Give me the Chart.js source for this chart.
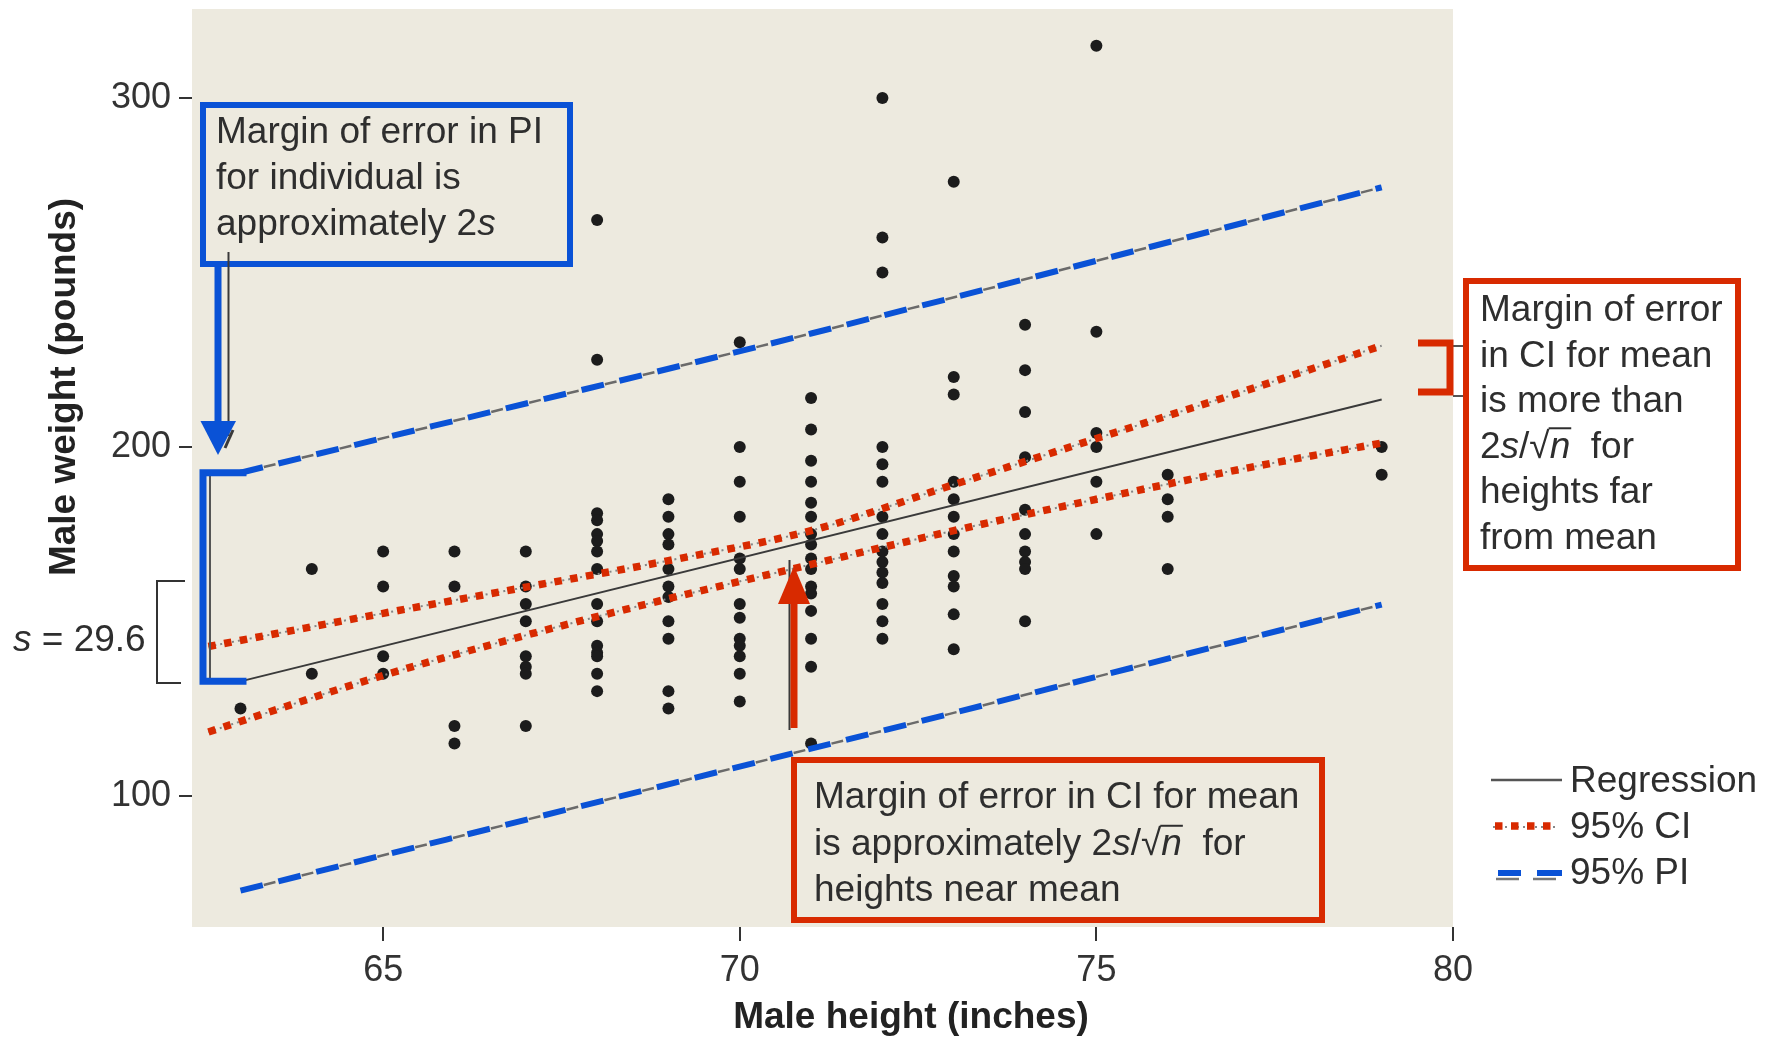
<!DOCTYPE html>
<html><head><meta charset="utf-8">
<script src="https://cdn.jsdelivr.net/npm/chart.js@4.4.1/dist/chart.umd.min.js"></script>
<style>html,body{margin:0;padding:0;background:#fff;overflow:hidden}canvas{display:block}</style>
</head><body>
<canvas id="c" width="1779" height="1038"></canvas>
<script>
// ---------- data ----------
const heights = [
  63,
  64,64,
  65,65,65,65,
  66,66,66,66,
  67,67,67,67,67,67,67,67,
  68,68,68,68,68,68,68,68,68,68,68,68,68,68,68,
  69,69,69,69,69,69,69,69,69,69,69,
  70,70,70,70,70,70,70,70,70,70,70,70,70,
  71,71,71,71,71,71,71,71,71,71,71,71,71,71,71,71,
  72,72,72,72,72,72,72,72,72,72,72,72,72,72,72,
  73,73,73,73,73,73,73,73,73,73,73,73,
  74,74,74,74,74,74,74,74,74,74,
  75,75,75,75,75,75,
  76,76,76,76,
  79,79
];
const weights = [
  125,
  165,135,
  170,160,140,135,
  170,160,120,115,
  170,160,155,150,140,137,135,120,
  265,225,181,179,175,173,170,165,155,150,143,141,140,135,130,
  185,180,175,172,165,160,157,150,145,130,125,
  230,200,190,180,168,165,155,151,145,143,140,135,127,
  214,205,196,190,184,180,175,172,168,165,160,158,153,145,137,115,
  300,260,250,200,195,190,180,175,170,167,164,161,155,150,145,
  276,220,215,190,185,180,175,170,163,160,152,142,
  235,222,210,197,182,175,170,167,165,150,
  315,233,204,200,190,175,
  192,185,180,165,
  200,192
];
const xTickValues = [65, 70, 75, 80];
const yTickValues = [100, 200, 300];
const regressionX = [63, 79];
const regressionY = [132.8, 213.6];
const ciX = [62.55, 65, 67, 69, 71, 73, 75, 77, 79];
const ciUpper = [142.8, 152.3, 159.8, 167.4, 176.0, 189.2, 202.4, 215.5, 229.0];
const ciLower = [118.3, 134.5, 146.0, 156.5, 166.3, 176.0, 185.0, 193.5, 201.1];
const piX = [63, 71, 79];
const piUpper = [192.6, 232.5, 274.4];
const piLower = [72.8, 113.5, 154.8];
const legendLabels = ['Regression', '95% CI', '95% PI'];
const xTitle = 'Male height (inches)';
const yTitle = 'Male weight (pounds)';

// ---------- styles ----------
const FONT = '"Liberation Sans", Arial, Helvetica, sans-serif';
const BLUE = '#0a52d6', RED = '#d82a00', BG = '#edeadf', INK = '#2e2e2e';
const pts = (xs, ys) => xs.map((x, i) => ({x: x, y: ys[i]}));

function richText(ctx, x, y, segs, size) {
  for (const s of segs) {
    ctx.font = (s.i ? 'italic ' : '') + size + 'px ' + FONT;
    ctx.fillText(s.t, x, y);
    const w = ctx.measureText(s.t).width;
    if (s.bar) {
      ctx.save(); ctx.strokeStyle = INK; ctx.lineWidth = 2;
      ctx.beginPath(); ctx.moveTo(x - 1, y - size * 0.79); ctx.lineTo(x + w + 1, y - size * 0.79); ctx.stroke();
      ctx.restore();
    }
    x += w;
  }
}
const sqrtN = [{t:'2'},{t:'s',i:1},{t:'/'},{t:'\u221A'},{t:'n',i:1,bar:1}];

function box(ctx, x, y, w, h, color, fill, lw) {
  ctx.save();
  ctx.fillStyle = fill; ctx.fillRect(x, y, w, h);
  ctx.strokeStyle = color; ctx.lineWidth = lw; ctx.strokeRect(x, y, w, h);
  ctx.restore();
}
function line(ctx, pts, color, lw, dash) {
  ctx.save(); ctx.strokeStyle = color; ctx.lineWidth = lw; ctx.setLineDash(dash || []);
  ctx.lineJoin = 'miter'; ctx.lineCap = 'butt';
  ctx.beginPath(); ctx.moveTo(pts[0][0], pts[0][1]);
  for (let i = 1; i < pts.length; i++) ctx.lineTo(pts[i][0], pts[i][1]);
  ctx.stroke(); ctx.restore();
}
function tri(ctx, a, b, c, color) {
  ctx.save(); ctx.fillStyle = color; ctx.beginPath();
  ctx.moveTo(a[0], a[1]); ctx.lineTo(b[0], b[1]); ctx.lineTo(c[0], c[1]); ctx.closePath(); ctx.fill(); ctx.restore();
}

const bgPlugin = {
  id: 'bg',
  beforeDraw(chart) {
    const {ctx, chartArea: a} = chart;
    ctx.save();
    ctx.fillStyle = '#fff'; ctx.fillRect(0, 0, chart.width, chart.height);
    ctx.fillStyle = BG; ctx.fillRect(a.left, a.top, a.right - a.left, a.bottom - a.top);
    ctx.restore();
  }
};

const annoPlugin = {
  id: 'anno',
  afterDraw(chart) {
    const ctx = chart.ctx;
    const xs = chart.scales.x, ys = chart.scales.y;
    const S = 37;
    ctx.save();
    ctx.fillStyle = INK; ctx.textAlign = 'left'; ctx.textBaseline = 'alphabetic';

    // ---- blue PI box ----
    box(ctx, 203, 105, 367, 159, BLUE, BG, 6);
    ctx.fillStyle = INK;
    richText(ctx, 216, 143, [{t:'Margin of error in PI'}], S);
    richText(ctx, 216, 189, [{t:'for individual is'}], S);
    richText(ctx, 216, 235, [{t:'approximately 2'},{t:'s',i:1}], S);
    // thin original arrow
    line(ctx, [[228.5, 252], [228.5, 436]], '#3a3a3a', 2);
    line(ctx, [[225, 448], [233, 430]], '#3a3a3a', 3);
    // blue arrow
    line(ctx, [[218, 267], [218, 423]], BLUE, 7);
    tri(ctx, [200.5, 421], [236, 421], [218, 455], BLUE);

    // ---- blue bracket (PI margin at x=63) ----
    const bx0 = 203, bx1 = xs.getPixelForValue(63) + 6;
    const bTop = ys.getPixelForValue(piUpper[0]), bBot = ys.getPixelForValue(regressionY[0]);
    line(ctx, [[210, bTop], [210, bBot]], '#555', 2);
    line(ctx, [[bx1, bTop], [bx0, bTop], [bx0, bBot], [bx1, bBot]], BLUE, 7);

    // ---- s bracket ----
    line(ctx, [[185, 581], [157, 581], [157, 683], [181, 683]], '#333', 2);
    ctx.fillStyle = INK;
    richText(ctx, 13, 651, [{t:'s',i:1},{t:' = 29.6'}], S);

    // ---- right red bracket + box ----
    line(ctx, [[1453, 346], [1463, 346]], '#555', 2);
    line(ctx, [[1453, 396], [1463, 396]], '#555', 2);
    line(ctx, [[1418, 343], [1450, 343], [1450, 392], [1418, 392]], RED, 7);
    box(ctx, 1466, 281, 272, 287, RED, '#fff', 6);
    ctx.fillStyle = INK;
    const rb = [321, 366.5, 412, 457.5, 503, 548.5];
    richText(ctx, 1480, rb[0], [{t:'Margin of error'}], S);
    richText(ctx, 1480, rb[1], [{t:'in CI for mean'}], S);
    richText(ctx, 1480, rb[2], [{t:'is more than'}], S);
    richText(ctx, 1480, rb[3], sqrtN.concat([{t:'  for'}]), S);
    richText(ctx, 1480, rb[4], [{t:'heights far'}], S);
    richText(ctx, 1480, rb[5], [{t:'from mean'}], S);

    // ---- red arrow + bottom box ----
    line(ctx, [[789.5, 560], [789.5, 730]], '#3a3a3a', 2);
    line(ctx, [[794, 603], [794, 728]], RED, 7);
    tri(ctx, [778, 604], [810, 604], [794, 566], RED);
    box(ctx, 794, 760, 528, 160, RED, BG, 6);
    ctx.fillStyle = INK;
    richText(ctx, 814, 808, [{t:'Margin of error in CI for mean'}], S);
    richText(ctx, 814, 855, [{t:'is approximately '}].concat(sqrtN, [{t:'  for'}]), S);
    richText(ctx, 814, 901, [{t:'heights near mean'}], S);

    // ---- legend ----
    line(ctx, [[1491, 780], [1562, 780]], '#555', 2.5);
    line(ctx, [[1493, 827], [1557, 827]], '#888', 2, [2, 4]);
    line(ctx, [[1495, 826], [1557, 826]], RED, 7.5, [7.5, 8.5]);
    line(ctx, [[1496, 879], [1519, 879]], '#777', 2.5);
    line(ctx, [[1533, 879], [1556, 879]], '#777', 2.5);
    line(ctx, [[1498, 873], [1521, 873]], BLUE, 6);
    line(ctx, [[1537, 873], [1562, 873]], BLUE, 6);
    ctx.fillStyle = INK;
    ctx.font = S + 'px ' + FONT;
    ctx.fillText(legendLabels[0], 1570, 792);
    ctx.fillText(legendLabels[1], 1570, 838);
    ctx.fillText(legendLabels[2], 1570, 884);

    // ---- axis titles ----
    ctx.fillStyle = '#222';
    ctx.font = 'bold 37px ' + FONT;
    ctx.textAlign = 'center';
    ctx.fillText(xTitle, 911, 1028);
    ctx.save();
    ctx.translate(75, 387); ctx.rotate(-Math.PI / 2);
    ctx.fillText(yTitle, 0, 0);
    ctx.restore();
    ctx.restore();
  }
};

const lineDs = (label, xs, ys, color, width, dash, order, extra) => Object.assign({
  label, data: pts(xs, ys), showLine: true, borderColor: color, borderWidth: width,
  borderDash: dash, pointRadius: 0, pointHoverRadius: 0, order, borderCapStyle: 'butt', fill: false
}, extra || {});
const curve = {cubicInterpolationMode: 'monotone', tension: 0.4};

new Chart(document.getElementById('c'), {
  type: 'scatter',
  data: {
    datasets: [
      lineDs('Regression', regressionX, regressionY, '#3a3a3a', 2, [], 1),
      lineDs('95% CI upper', ciX, ciUpper, RED, 7.5, [7.5, 8.5], 1, curve),
      lineDs('95% CI lower', ciX, ciLower, RED, 7.5, [7.5, 8.5], 1, curve),
      lineDs('CI grey upper', ciX, ciUpper, '#858585', 2, [2, 4], 2, curve),
      lineDs('CI grey lower', ciX, ciLower, '#858585', 2, [2, 4], 2, curve),
      lineDs('95% PI upper', piX, piUpper, BLUE, 6, [23, 16], 1, curve),
      lineDs('95% PI lower', piX, piLower, BLUE, 6, [23, 16], 1, curve),
      lineDs('PI grey upper', piX, piUpper, '#6a6a6a', 2.5, [12, 27], 2, Object.assign({borderDashOffset: -24}, curve)),
      lineDs('PI grey lower', piX, piLower, '#6a6a6a', 2.5, [12, 27], 2, Object.assign({borderDashOffset: -24}, curve)),
      {label: 'Males', data: pts(heights, weights), showLine: false, pointRadius: 6,
       pointBackgroundColor: '#1c1c1c', pointBorderWidth: 0, order: 10}
    ]
  },
  options: {
    responsive: false, animation: false, devicePixelRatio: 1,
    layout: {padding: {top: 9, right: 326, left: 0, bottom: 0}},
    plugins: {legend: {display: false}, tooltip: {enabled: false}},
    events: [],
    scales: {
      x: {
        type: 'linear', min: 62.32, max: 80, position: 'bottom',
        grid: {display: true, drawOnChartArea: false, drawTicks: true, tickLength: 14, color: '#333', lineWidth: 2},
        border: {display: false},
        ticks: {font: {family: FONT, size: 36}, color: '#333', padding: 8, autoSkip: false, maxRotation: 0},
        afterBuildTicks: s => { s.ticks = xTickValues.map(v => ({value: v})); },
        afterFit: s => { s.height = 111; s.paddingLeft = 0; s.paddingRight = 0; }
      },
      y: {
        type: 'linear', min: 62.4, max: 325.5,
        grid: {display: true, drawOnChartArea: false, drawTicks: true, tickLength: 13, color: '#333', lineWidth: 2},
        border: {display: false},
        ticks: {font: {family: FONT, size: 36}, color: '#333', padding: 8, autoSkip: false},
        afterBuildTicks: s => { s.ticks = yTickValues.map(v => ({value: v})); },
        afterFit: s => { s.width = 192; s.paddingTop = 0; s.paddingBottom = 0; }
      }
    }
  },
  plugins: [bgPlugin, annoPlugin]
});
</script>
</body></html>
